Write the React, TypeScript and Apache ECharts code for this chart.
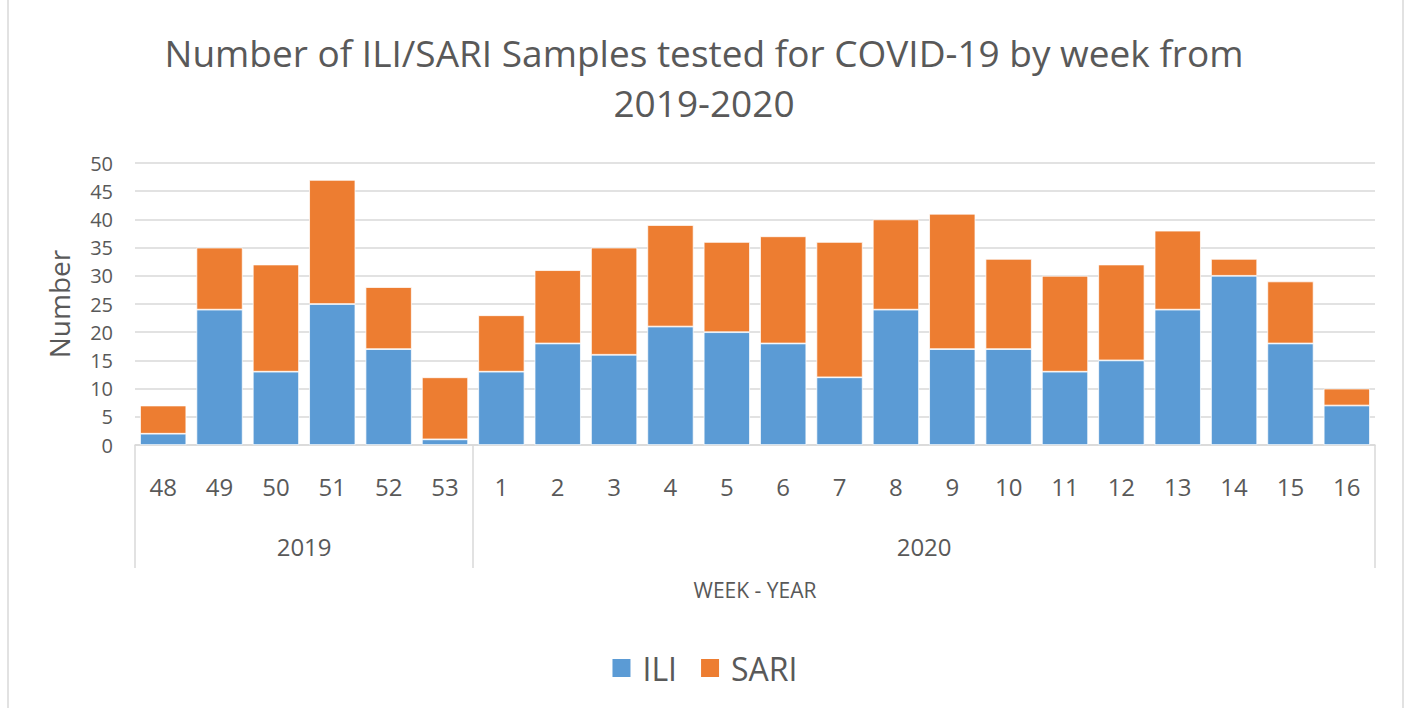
import React, { useEffect, useRef } from "react";
import * as echarts from "echarts";

const weeks = ["48", "49", "50", "51", "52", "53", "1", "2", "3", "4", "5", "6", "7", "8", "9", "10", "11", "12", "13", "14", "15", "16"];
const years = ["2019", "2020"];
const yearSpans = [6, 16];
const ili = [2, 24, 13, 25, 17, 1, 13, 18, 16, 21, 20, 18, 12, 24, 17, 17, 13, 15, 24, 30, 18, 7];
const sari = [5, 11, 19, 22, 11, 11, 10, 13, 19, 18, 16, 19, 24, 16, 24, 16, 17, 17, 14, 3, 11, 3];

const FONT = "Open Sans";
const TXT = "#595959";

export default function App() {
  const ref = useRef<HTMLDivElement>(null);
  useEffect(() => {
    if (!ref.current) return;
    const chart = echarts.init(ref.current, null, { renderer: "svg" });
    const boundaries = [0];
    const centers: number[] = [];
    let acc = 0;
    yearSpans.forEach((s) => {
      centers.push(acc + s / 2);
      acc += s;
      boundaries.push(acc);
    });
    chart.setOption({
      animation: false,
      backgroundColor: "#fff",
      textStyle: { fontFamily: FONT },
      title: {
        text: "Number of ILI/SARI Samples tested for COVID-19 by week from\n2019-2020",
        left: "center",
        top: 22,
        textStyle: { fontFamily: FONT, fontSize: 37, fontWeight: "normal", color: TXT, lineHeight: 50 },
      },
      legend: {
        top: 647,
        left: "center",
        icon: "rect",
        itemWidth: 20,
        itemHeight: 20,
        itemGap: 22,
        textStyle: { fontFamily: FONT, fontSize: 32, color: TXT, padding: [0, 0, 0, 6] },
        data: ["ILI", "SARI"],
      },
      grid: { left: 135, right: 33, top: 163, bottom: 263, containLabel: false },
      xAxis: [
        {
          type: "category",
          data: weeks,
          axisLine: { show: true, lineStyle: { color: "#d9d9d9", width: 1.5 } },
          axisTick: { show: false },
          axisLabel: { color: TXT, fontSize: 24, fontFamily: FONT, margin: 29, interval: 0 },
        },
        {
          type: "value",
          min: 0,
          max: weeks.length,
          position: "bottom",
          axisLine: { show: false },
          splitLine: { show: false },
          axisTick: {
            show: true,
            length: 123,
            customValues: boundaries,
            lineStyle: { color: "#d9d9d9", width: 1.5 },
          },
          axisLabel: {
            color: TXT,
            fontSize: 24,
            fontFamily: FONT,
            margin: 89,
            customValues: centers,
            formatter: (v: number) => {
              const i = centers.indexOf(v);
              return i >= 0 ? years[i] : "";
            },
          },
          name: "WEEK - YEAR",
          nameLocation: "middle",
          nameGap: 134,
          nameTextStyle: { color: TXT, fontSize: 21, fontFamily: FONT },
        },
      ],
      yAxis: {
        type: "value",
        min: 0,
        max: 50,
        interval: 5,
        name: "Number",
        nameLocation: "middle",
        nameRotate: 90,
        nameGap: 62,
        nameTextStyle: { color: TXT, fontSize: 28, fontFamily: FONT },
        axisLine: { show: false },
        axisTick: { show: false },
        axisLabel: { color: TXT, fontSize: 20, fontFamily: FONT, margin: 22 },
        splitLine: { lineStyle: { color: "#d9d9d9", width: 1.5 } },
      },
      series: [
        {
          name: "ILI",
          type: "bar",
          stack: "total",
          data: ili,
          barCategoryGap: "18%",
          itemStyle: { color: "#5B9BD5", borderColor: "#ffffff", borderWidth: 0.75 },
        },
        {
          name: "SARI",
          type: "bar",
          stack: "total",
          data: sari,
          barCategoryGap: "18%",
          itemStyle: { color: "#ED7D31", borderColor: "#ffffff", borderWidth: 0.75 },
        },
      ],
      graphic: [
        {
          type: "rect",
          shape: { x: 8, y: -10, width: 1395, height: 730 },
          style: { fill: "none", stroke: "#d9d9d9", lineWidth: 1.5 },
          silent: true,
        },
      ],
    });
    return () => chart.dispose();
  }, []);
  return (
    <div
      ref={ref}
      style={{ position: "fixed", left: 0, top: 0, width: 1408, height: 708 }}
    />
  );
}
